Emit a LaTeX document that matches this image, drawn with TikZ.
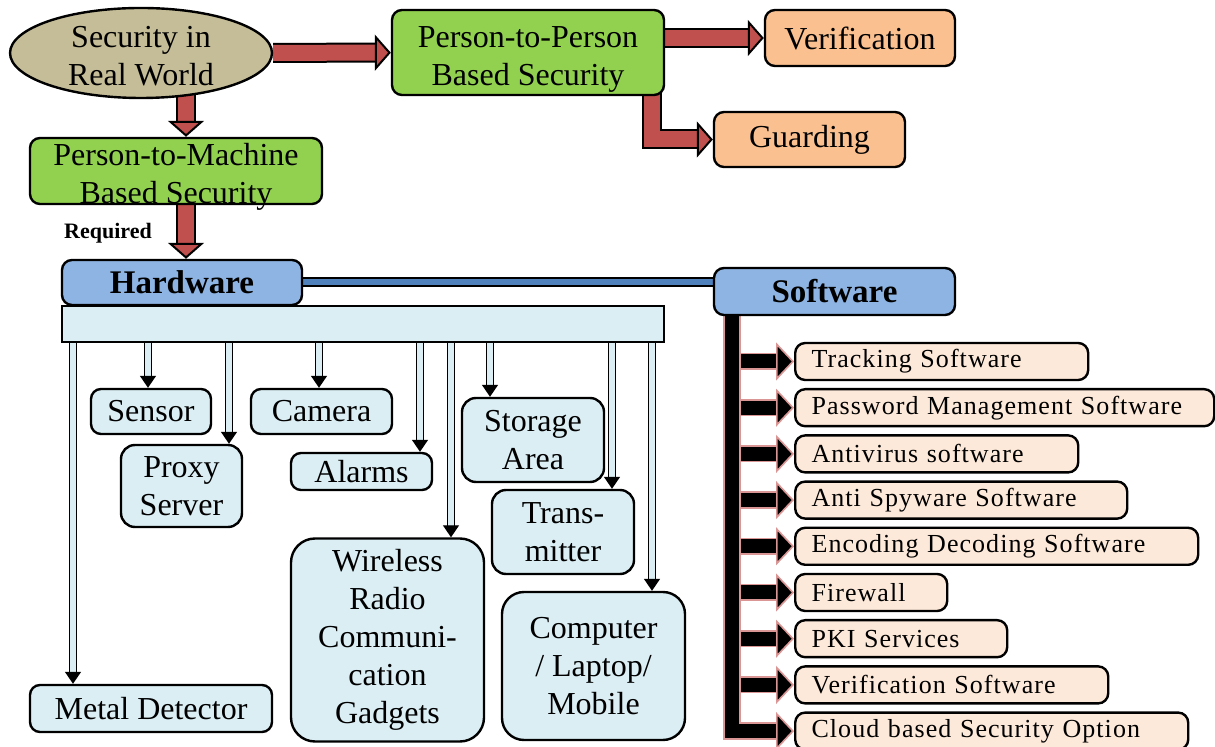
\documentclass[tikz,border=0pt]{standalone}
\usepackage{fontspec}
\setmainfont{Liberation Serif}
\newfontfamily\swfont[LetterSpace=4]{Liberation Serif}
\usepackage{tikz}
\usetikzlibrary{arrows.meta}
\usetikzlibrary{shapes.geometric}
\usetikzlibrary{positioning}
\usetikzlibrary{backgrounds}
\definecolor{tanfill}{HTML}{C4BD97}
\definecolor{greenfill}{HTML}{92D050}
\definecolor{orangefill}{HTML}{FAC090}
\definecolor{bluefill}{HTML}{8EB4E3}
\definecolor{hwfill}{HTML}{DBEEF4}
\definecolor{swfill}{HTML}{FDE9D9}
\definecolor{redfill}{HTML}{C0504D}
\definecolor{pinkline}{HTML}{D99694}
\definecolor{linkblue}{HTML}{4F81BD}
\newcommand{\twolines}[2]{\smash{\raisebox{-7.5pt}{\begin{tabular}{@{}c@{}}#1\\#2\end{tabular}}}}
\tikzset{
  every picture/.style={font={\fontsize{16}{19}\selectfont}},
  box/.style={draw, line width=1.2pt, rounded corners=5pt, align=center, inner sep=1pt},
  hwitem/.style={box, fill=hwfill},
  switem/.style={box, fill=swfill, anchor=west, align=left, inner xsep=7pt,
    minimum height=18.5pt, font={\fontsize{13}{15}\swfont}}}

\begin{document}
\begin{tikzpicture}[x=0.5pt, y=-0.5pt,
    redarrow/.style={draw=black, line width=1pt, double=redfill, double distance=8pt,
      -{Triangle[length=8pt, width=18pt, fill=redfill]}},
    hwarrow/.style={draw=black, line width=0.7pt, double=hwfill, double distance=2.6pt,
      -{Triangle[length=6pt, width=8pt]}},
    swarrow/.style={draw=pinkline, line width=0.8pt, double=black, double distance=7pt,
      -{Triangle[length=9pt, width=19pt, fill=black]}},
    link/.style={draw=black, line width=1pt, double=linkblue, double distance=3pt}]
  \useasboundingbox (0,0) rectangle (1215,747);

  % top part
  \node[draw, line width=1.2pt, ellipse, fill=tanfill, minimum width=131pt,
    minimum height=45pt, inner sep=0pt] (real) at (141,53) {\twolines{Security in}{Real World}};
  \node[box, fill=greenfill, minimum width=136pt, minimum height=42.5pt] (p2p) at (528,52.5)
    {\twolines{Person-to-Person}{Based Security}};
  \node[box, fill=orangefill, minimum width=95pt, minimum height=28pt] (verif) at (860,38) {Verification};
  \node[box, fill=orangefill, minimum width=95.5pt, minimum height=27.5pt] (guard) at (809.5,139.5) {Guarding};
  \node[box, fill=greenfill, minimum width=146pt, minimum height=33pt] (p2m) at (176,171)
    {\twolines{Person-to-Machine}{Based Security}};
  \node[font={\fontsize{11}{13}\selectfont\bfseries}] (req) at (108,233) {Required};

  % hardware side
  \node[box, fill=bluefill, minimum width=120pt, minimum height=22.5pt,
    font={\fontsize{16.5}{19}\selectfont\bfseries}] (hw) at (182,282.5) {Hardware};
  \node[draw, line width=1pt, fill=hwfill, minimum width=301pt, minimum height=18pt,
    inner sep=0pt] (bar) at (363,324) {};
  \node[hwitem, minimum width=60pt, minimum height=22.5pt] (sensor) at (151,411.5) {Sensor};
  \node[hwitem, minimum width=70.5pt, minimum height=22.5pt] (camera) at (321.5,411.5) {Camera};
  \node[hwitem, minimum width=60.5pt, minimum height=41pt, rounded corners=7pt] (proxy) at (181.5,486)
    {Proxy\\Server};
  \node[hwitem, minimum width=70.5pt, minimum height=18.5pt] (alarms) at (361.5,471.5) {Alarms};
  \node[hwitem, minimum width=71pt, minimum height=42pt, rounded corners=7pt] (storage) at (533,440)
    {Storage\\Area};
  \node[hwitem, minimum width=71pt, minimum height=42pt, rounded corners=7pt] (trans) at (563,532)
    {Trans-\\mitter};
  \node[hwitem, minimum width=96.5pt, minimum height=101.5pt, rounded corners=12pt] (wireless)
    at (387.5,640) {Wireless\\Radio\\Communi-\\cation\\Gadgets};
  \node[hwitem, minimum width=91.5pt, minimum height=74pt, rounded corners=11pt] (computer)
    at (593.5,666) {Computer\\/ Laptop/\\Mobile};
  \node[hwitem, minimum width=121pt, minimum height=23.5pt] (metal) at (151,708.5) {Metal Detector};

  % software side
  \node[box, fill=bluefill, minimum width=120.5pt, minimum height=23.5pt,
    font={\fontsize{16.5}{19}\selectfont\bfseries}] (sw) at (834.5,291.5) {Software};
  \foreach \t/\w [count=\i] in {Tracking Software/146.5, Password Management Software/209.5,
      Antivirus software/141.5, Anti Spyware Software/166, Encoding Decoding Software/201.5,
      Firewall/76, PKI Services/106, Verification Software/156.5, Cloud based Security Option/196.5}
  {
    \pgfmathsetmacro\tw{\w-16.4}
    \node[switem, minimum width=\w pt, text width=\tw pt] (s\i) at (794,361.5+46.2*\i-46.2) {\t};
  }

  \begin{scope}[on background layer]
    \draw[redarrow] (real) -- (p2p);
    \draw[redarrow] (p2p.east |- verif) -- (verif);
    \draw[redarrow] (p2p -| 652,0) |- (guard);
    \draw[redarrow] ([xshift=5pt]p2m.north |- real) -- ([xshift=5pt]p2m.north);
    \draw[redarrow] ([xshift=5pt]p2m.south) -- ([xshift=5pt]p2m.south |- hw.north);
    \draw[link] (hw) -- (hw -| sw.west);
    \foreach \x/\t in {73/metal, 148/sensor, 229/proxy, 319/camera, 420/alarms,
        451/wireless, 490/storage, 612/trans, 652/computer}
      \draw[hwarrow] (bar.south -| \x,0) -- (\x,0 |- \t.north);
    \foreach \i in {1,...,9}
      \draw[swarrow] (sw -| 732,0) |- (s\i.west);
  \end{scope}
\end{tikzpicture}
\end{document}
